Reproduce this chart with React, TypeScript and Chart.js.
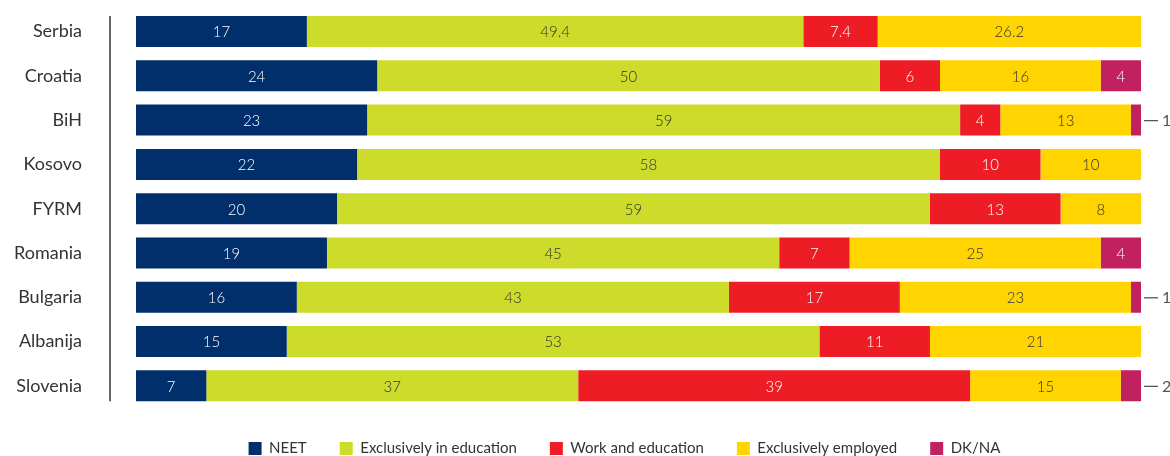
import React, { useEffect, useRef } from "react";
import { Chart, registerables } from "chart.js";

Chart.register(...registerables);

const categories = ["Serbia", "Croatia", "BiH", "Kosovo", "FYRM", "Romania", "Bulgaria", "Albanija", "Slovenia"];
const seriesNames = ["NEET", "Exclusively in education", "Work and education", "Exclusively employed", "DK/NA"];
const neet = [17, 24, 23, 22, 20, 19, 16, 15, 7];
const exclEducation = [49.4, 50, 59, 58, 59, 45, 43, 53, 37];
const workEducation = [7.4, 6, 4, 10, 13, 7, 17, 11, 39];
const exclEmployed = [26.2, 16, 13, 10, 8, 25, 23, 21, 15];
const dkna = [null, 4, 1, null, null, 4, 1, null, 2];

const seriesValues = [neet, exclEducation, workEducation, exclEmployed, dkna];
const colors = ["#002f6c", "#cddb2a", "#ee1d25", "#ffd400", "#c2215f"];
const labelColors = ["#ffffff", "#333333", "#ffffff", "#333333", "#ffffff"];

const FONT = "Lato, 'Open Sans', sans-serif";

const valueLabels = {
  id: "valueLabels",
  afterDatasetsDraw(chart: any) {
    const ctx = chart.ctx;
    ctx.save();
    ctx.textBaseline = "middle";
    chart.data.datasets.forEach((ds: any, di: number) => {
      const meta = chart.getDatasetMeta(di);
      meta.data.forEach((bar: any, i: number) => {
        const v = ds.data[i];
        if (v == null) return;
        const { x, y, base } = bar.getProps(["x", "y", "base"], true);
        if (v <= 2) {
          ctx.strokeStyle = "#555555";
          ctx.lineWidth = 1.3;
          ctx.beginPath();
          ctx.moveTo(x + 3, y + 0.5);
          ctx.lineTo(x + 17, y + 0.5);
          ctx.stroke();
          ctx.font = `16px ${FONT}`;
          ctx.fillStyle = "#555555";
          ctx.textAlign = "left";
          ctx.fillText(String(v), x + 21, y + 1);
        } else {
          ctx.font = `300 15px ${FONT}`;
          ctx.fillStyle = labelColors[di];
          ctx.textAlign = "center";
          ctx.fillText(String(v), (x + base) / 2, y + 1);
        }
      });
    });
    ctx.restore();
  },
};

const axisLine = {
  id: "axisLine",
  afterDatasetsDraw(chart: any) {
    const meta = chart.getDatasetMeta(0);
    const first = meta.data[0];
    const last = meta.data[meta.data.length - 1];
    if (!first || !last) return;
    const top = first.y - first.height / 2;
    const bottom = last.y + last.height / 2;
    const x = chart.chartArea.left - 26;
    const ctx = chart.ctx;
    ctx.save();
    ctx.strokeStyle = "#333333";
    ctx.lineWidth = 1.5;
    ctx.beginPath();
    ctx.moveTo(x, top);
    ctx.lineTo(x, bottom);
    ctx.stroke();
    ctx.restore();
  },
};

export default function App() {
  const ref = useRef<HTMLCanvasElement | null>(null);
  useEffect(() => {
    if (!ref.current) return;
    const chart = new Chart(ref.current, {
      type: "bar",
      data: {
        labels: categories,
        datasets: seriesNames.map((name, i) => ({
          label: name,
          data: seriesValues[i] as any,
          backgroundColor: colors[i],
          borderWidth: 0,
          categoryPercentage: 1,
          barPercentage: 0.7,
        })),
      },
      options: {
        indexAxis: "y",
        animation: false,
        responsive: true,
        maintainAspectRatio: false,
        devicePixelRatio: 1,
        layout: { padding: { top: 9.4, bottom: 0, left: 0, right: 0 } },
        scales: {
          x: { stacked: true, min: 0, max: 100, display: false },
          y: {
            stacked: true,
            grid: { display: false, drawTicks: false },
            border: { display: false },
            ticks: { color: "#333333", font: { family: FONT, size: 18 }, padding: 54 },
            afterFit: (scale: any) => {
              scale.width = 136;
              scale.paddingTop = 0;
              scale.paddingBottom = 0;
            },
          },
          yRight: {
            type: "linear",
            axis: "y",
            position: "right",
            display: true,
            grid: { display: false, drawTicks: false },
            border: { display: false },
            ticks: { display: false },
            afterFit: (scale: any) => {
              scale.width = 108;
              scale.paddingTop = 0;
              scale.paddingBottom = 0;
            },
          },
        },
        plugins: {
          legend: {
            position: "bottom",
            fullSize: true,
            labels: {
              boxWidth: 13,
              boxHeight: 13,
              padding: 33,
              color: "#333333",
              font: { family: FONT, size: 15 },
            },
          },
          tooltip: { enabled: false },
        },
      },
      plugins: [valueLabels, axisLine],
    });
    return () => chart.destroy();
  }, []);
  return (
    <div style={{ position: "fixed", left: 0, top: 0, width: "1249px", height: "466px" }}>
      <canvas ref={ref} />
    </div>
  );
}
